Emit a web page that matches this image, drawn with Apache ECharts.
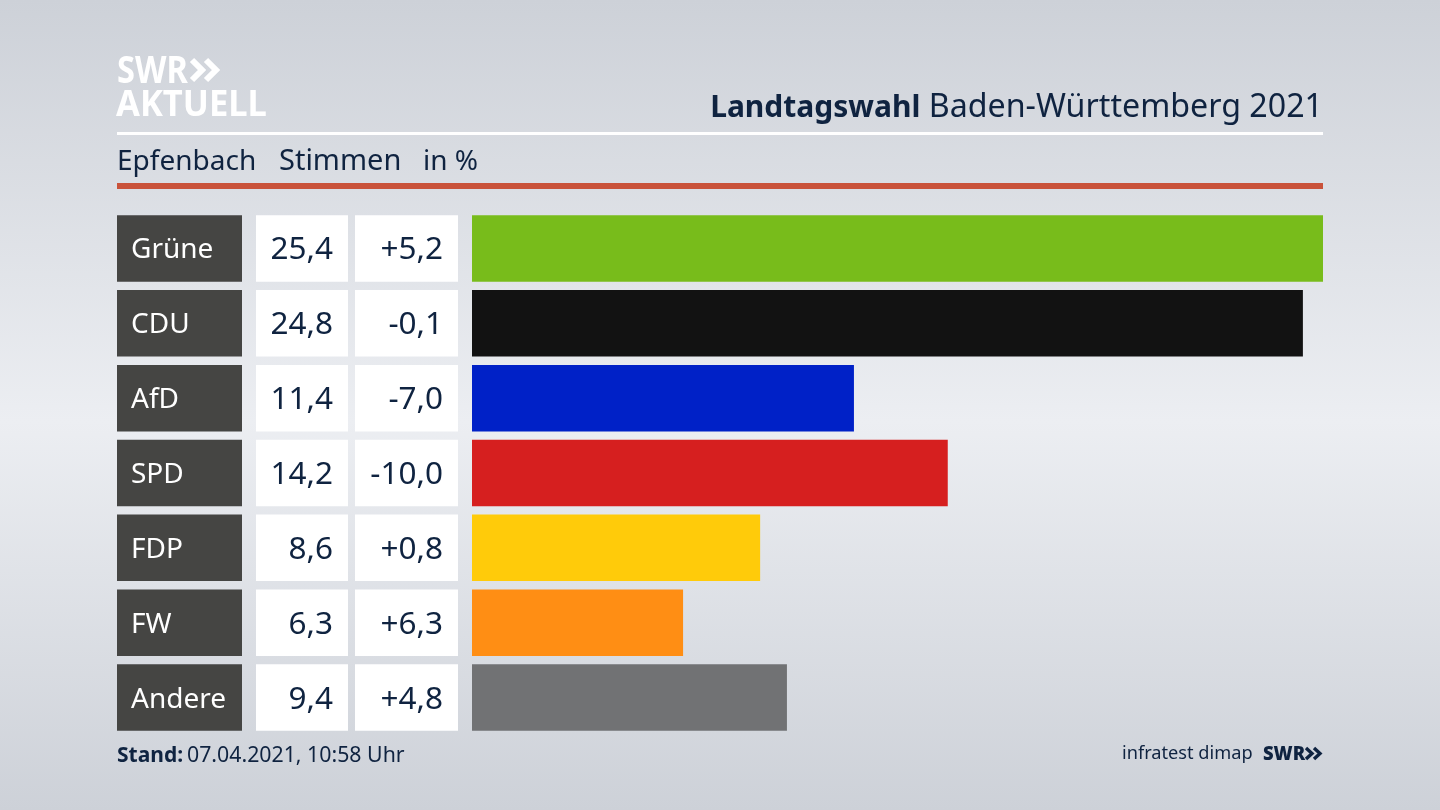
<!DOCTYPE html>
<html>
<head>
<meta charset="utf-8">
<title>Landtagswahl Baden-Württemberg 2021</title>
<style>
  html, body { margin: 0; padding: 0; }
  #main { width: 1440px; height: 810px; }
</style>
<script src="https://cdn.jsdelivr.net/npm/echarts@6/dist/echarts.min.js"></script>
</head>
<body>
<div id="main"></div>
<script>
const parties = ['Grüne', 'CDU', 'AfD', 'SPD', 'FDP', 'FW', 'Andere'];
const shares = [25.4, 24.8, 11.4, 14.2, 8.6, 6.3, 9.4];
const changes = ['+5,2', '-0,1', '-7,0', '-10,0', '+0,8', '+6,3', '+4,8'];
const colors = ['#78bc1b', '#121212', '#0021c7', '#d61f1f', '#ffcb0a', '#ff8e14', '#717274'];

const FONT = '"Noto Sans", sans-serif';
const NAVY = '#0f2340';
const TOP = 211, BOTTOM = 75;

const chart = echarts.init(document.getElementById('main'), null, { renderer: 'canvas' });

// one grid per table column, the bar chart is the last one
const columns = [
  { left: 117, width: 125 },
  { left: 256, width: 92 },
  { left: 355, width: 103 },
  { left: 472, width: 851 },
];

function cellSeries(index, color, textColor, position, distance, text) {
  return {
    type: 'bar',
    xAxisIndex: index,
    yAxisIndex: index,
    barWidth: 66.5,
    silent: true,
    data: parties.map(() => 1),
    itemStyle: { color: color },
    label: {
      show: true,
      position: position,
      distance: distance,
      offset: [0, 2],
      color: textColor,
      fontFamily: FONT,
      fontSize: index === 0 ? 28 : 31.5,
      formatter: p => text[p.dataIndex],
    },
  };
}

function chevrons(x, y, h, w, gap, color, lw) {
  return [0, 1].map(i => ({
    type: 'polyline',
    shape: { points: [[x + i * gap, y], [x + i * gap + w, y + h / 2], [x + i * gap, y + h]] },
    style: { stroke: color, lineWidth: lw, fill: null },
  }));
}

function label(x, y, text, font, fill, extra) {
  return { type: 'text', style: { x: x, y: y, text: text, fill: fill, font: font + ' ' + FONT, verticalAlign: 'middle', ...extra } };
}

const option = {
  animation: false,
  backgroundColor: new echarts.graphic.LinearGradient(0, 0, 0, 1, [
    { offset: 0, color: '#cdd1d8' },
    { offset: 0.52, color: '#eceef2' },
    { offset: 1, color: '#cdd1d8' },
  ]),
  grid: columns.map(c => ({ left: c.left, width: c.width, top: TOP, bottom: BOTTOM })),
  xAxis: columns.map((c, i) => ({
    type: 'value',
    gridIndex: i,
    min: 0,
    max: i === 3 ? shares[0] : 1,
    show: false,
  })),
  yAxis: columns.map((c, i) => ({
    type: 'category',
    gridIndex: i,
    data: parties,
    inverse: true,
    show: false,
  })),
  series: [
    cellSeries(0, '#454543', '#ffffff', 'insideLeft', 14, parties),
    cellSeries(1, '#ffffff', NAVY, 'insideRight', 15, shares.map(v => v.toFixed(1).replace('.', ','))),
    cellSeries(2, '#ffffff', NAVY, 'insideRight', 15, changes),
    {
      type: 'bar',
      xAxisIndex: 3,
      yAxisIndex: 3,
      barWidth: 66.5,
      silent: true,
      data: shares.map((v, i) => ({ value: v, itemStyle: { color: colors[i] } })),
    },
  ],
  graphic: [
    { type: 'rect', shape: { x: 117, y: 132, width: 1206, height: 3 }, style: { fill: '#ffffff' } },
    { type: 'rect', shape: { x: 117, y: 183, width: 1206, height: 6 }, style: { fill: '#c9523a' } },
    // logo, squeezed since the real one is a condensed face
    { ...label(0, 72, 'SWR', 'bold 37px', '#fff'), x: 117, scaleX: 0.88 },
    ...chevrons(192, 60, 20, 10, 14, '#fff', 6),
    { ...label(0, 106, 'AKTUELL', 'bold 36px', '#fff'), x: 116, scaleX: 0.96 },
    // heading
    {
      type: 'text',
      style: {
        x: 1323, y: 108, align: 'right', verticalAlign: 'middle',
        text: '{b|Landtagswahl} Baden-Württemberg 2021',
        fill: NAVY, font: '32.2px ' + FONT,
        rich: { b: { fontWeight: 'bold', fontSize: 30, fontFamily: FONT, fill: NAVY } },
      },
    },
    label(117, 162, 'Epfenbach', '28px', NAVY),
    label(279, 162, 'Stimmen', '29px', NAVY),
    label(423, 162, 'in %', '28px', NAVY),
    // footer
    label(117, 756, 'Stand:', 'bold 21px', NAVY),
    label(187, 756, '07.04.2021, 10:58 Uhr', '21.3px', NAVY),
    label(1122, 754, 'infratest dimap', '18.2px', NAVY),
    { ...label(0, 754, 'SWR', '900 20px', NAVY), x: 1263, scaleX: 0.92 },
    ...chevrons(1306, 748, 11, 6, 8, NAVY, 3.4),
  ],
};

chart.setOption(option);
</script>
</body>
</html>
